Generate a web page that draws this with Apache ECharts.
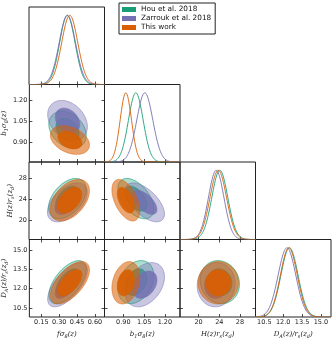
<!DOCTYPE html>
<html>
<head>
<meta charset="utf-8">
<script src="https://cdn.jsdelivr.net/npm/echarts@6/dist/echarts.min.js"></script>
<style>
  html, body { margin: 0; padding: 0; background: #fff; }
  #chart { width: 335px; height: 341px; }
</style>
</head>
<body>
<div id="chart"></div>
<script>
// datasets, in legend order
var names = ['Hou et al. 2018', 'Zarrouk et al. 2018', 'This work'];
var colors = ['#1b9e77', '#7570b3', '#d95f02'];

// marginal means / widths
var fs8Mean = [0.37, 0.37, 0.39];
var fs8Sigma = [0.064, 0.068, 0.067];
var bs8Mean = [0.99, 1.055, 0.918];
var bs8Sigma = [0.053, 0.058, 0.041];
var hrsMean = [24.1, 23.4, 23.8];
var hrsSigma = [1.55, 1.5, 1.6];
var darsMean = [12.5, 12.3, 12.45];
var darsSigma = [0.68, 0.7, 0.67];

// correlations (tilt of the 2D contours)
var rhoFB = [-0.3, -0.3, -0.35];
var rhoFH = [0.45, 0.5, 0.45];
var rhoFD = [0.6, 0.65, 0.6];
var rhoBH = [-0.5, -0.6, -0.5];
var rhoBD = [0.3, 0.35, 0.25];
var rhoHD = [-0.1, 0.05, 0.0];

// axes
var fs8Ticks = [0.15, 0.30, 0.45, 0.60];
var bs8Ticks = [0.90, 1.05, 1.20];
var hrsTicks = [20, 24, 28];
var darsTicks = [10.5, 12.0, 13.5, 15.0];
var fs8Range = [0.05, 0.68];
var bs8Range = [0.764, 1.309];
var hrsRange = [16.4, 31.0];
var darsRange = [9.8, 15.8];

var means = [fs8Mean, bs8Mean, hrsMean, darsMean];
var sigmas = [fs8Sigma, bs8Sigma, hrsSigma, darsSigma];
var ticks = [fs8Ticks, bs8Ticks, hrsTicks, darsTicks];
var ranges = [fs8Range, bs8Range, hrsRange, darsRange];
var decimals = [2, 2, 0, 1];
var rhos = {'0_1': rhoFB, '0_2': rhoFH, '0_3': rhoFD, '1_2': rhoBH, '1_3': rhoBD, '2_3': rhoHD};

// fill opacity per dataset: [95% region, 68% region]
var fillAlpha = [[0.35, 0.8], [0.4, 0.85], [0.55, 0.9]];

var axisNames = [
    '{i|fσ}{s|8}{i|(z)}',
    '{i|b}{s|1}{i|σ}{s|8}{i|(z)}',
    '{i|H(z)r}{s|s}{i|(z}{s|d}{i|)}',
    '{i|D}{s|A}{i|(z)/r}{s|s}{i|(z}{s|d}{i|)}'
];
var nameRich = {
    i: { fontFamily: 'DejaVu Serif', fontStyle: 'italic', fontSize: 7, color: '#222' },
    s: { fontFamily: 'DejaVu Serif', fontStyle: 'italic', fontSize: 5, color: '#222', padding: [4, 0, 0, 0] }
};

var colLeft = [29, 104.5, 180, 255.5];
var rowTop = [7, 84.5, 162, 239.5];
var cellW = 75.5, cellH = 77.5;

var chart = echarts.init(document.getElementById('chart'));
var grids = [], xAxes = [], yAxes = [], series = [];

function tickAxis(p, g, pos, showLabel) {
    return {
        type: 'value', gridIndex: g, position: pos,
        min: ranges[p][0], max: ranges[p][1],
        axisLine: { show: false }, splitLine: { show: false },
        axisTick: { show: true, inside: true, length: 3, customValues: ticks[p],
            lineStyle: { color: '#222', width: 0.8 } },
        axisLabel: { show: showLabel, customValues: ticks[p], fontSize: 6.5, color: '#222',
            fontFamily: 'DejaVu Sans', margin: 2,
            formatter: function (v) { return v.toFixed(decimals[p]); } }
    };
}

function fillColor(d, level) {
    var c = echarts.color.parse(colors[d]);
    return 'rgba(' + c[0] + ',' + c[1] + ',' + c[2] + ',' + fillAlpha[d][level] + ')';
}

function contour(px, py, d, level, xi, yi, outlineOnly) {
    var r = rhos[px + '_' + py][d];
    var k = level === 0 ? 2.448 : 1.515;
    return {
        type: 'custom', name: names[d], coordinateSystem: 'cartesian2d',
        xAxisIndex: xi, yAxisIndex: yi, clip: true, silent: true,
        itemStyle: { color: colors[d] },
        data: [[means[px][d], means[py][d]]],
        renderItem: function (params, api) {
            var pts = [];
            for (var i = 0; i <= 90; i++) {
                var t = i / 90 * 2 * Math.PI;
                var x = means[px][d] + k * sigmas[px][d] * Math.cos(t);
                var y = means[py][d] + k * sigmas[py][d] * (r * Math.cos(t) + Math.sqrt(1 - r * r) * Math.sin(t));
                pts.push(api.coord([x, y]));
            }
            return {
                type: 'polygon', shape: { points: pts },
                style: { fill: outlineOnly ? 'none' : fillColor(d, level),
                    stroke: colors[d], lineWidth: 0.5, opacity: outlineOnly ? 0.45 : 1 }
            };
        }
    };
}

function marginal(p, d, xi, yi) {
    return {
        type: 'custom', name: names[d], coordinateSystem: 'cartesian2d',
        xAxisIndex: xi, yAxisIndex: yi, clip: true, silent: true,
        itemStyle: { color: colors[d] },
        data: [[means[p][d], 1]],
        renderItem: function (params, api) {
            var pts = [];
            var lo = ranges[p][0], hi = ranges[p][1];
            for (var i = 0; i <= 120; i++) {
                var x = lo + (hi - lo) * i / 120;
                var z = (x - means[p][d]) / sigmas[p][d];
                pts.push(api.coord([x, Math.exp(-0.5 * z * z)]));
            }
            return { type: 'polyline', shape: { points: pts },
                style: { fill: 'none', stroke: colors[d], lineWidth: 0.9 } };
        }
    };
}

for (var row = 0; row < 4; row++) {
    for (var col = 0; col <= row; col++) {
        var g = grids.length;
        grids.push({ left: colLeft[col], top: rowTop[row], width: cellW, height: cellH,
            show: true, borderColor: '#222', borderWidth: 1, backgroundColor: 'transparent' });
        var bottom = tickAxis(col, g, 'bottom', row === 3);
        if (row === 3) {
            bottom.name = axisNames[col];
            bottom.nameLocation = 'middle';
            bottom.nameGap = 13;
            bottom.nameTextStyle = { rich: nameRich };
        }
        var xi = xAxes.length;
        xAxes.push(bottom);
        if (row === col) {
            var yi = yAxes.length;
            yAxes.push({ type: 'value', gridIndex: g, min: 0, max: 1.12, show: false });
            for (var d = 0; d < 3; d++) series.push(marginal(col, d, xi, yi));
        } else {
            xAxes.push(tickAxis(col, g, 'top', false));
            var left = tickAxis(row, g, 'left', col === 0);
            if (col === 0) {
                left.name = axisNames[row];
                left.nameLocation = 'middle';
                left.nameRotate = 90;
                left.nameGap = 14;
                left.nameTextStyle = { rich: nameRich };
            }
            var yi2 = yAxes.length;
            yAxes.push(left);
            yAxes.push(tickAxis(row, g, 'right', false));
            // fills: Hou, Zarrouk, then Hou outline, then this work
            series.push(contour(col, row, 0, 0, xi, yi2));
            series.push(contour(col, row, 0, 1, xi, yi2));
            series.push(contour(col, row, 1, 0, xi, yi2));
            series.push(contour(col, row, 1, 1, xi, yi2));
            series.push(contour(col, row, 0, 0, xi, yi2, true));
            series.push(contour(col, row, 0, 1, xi, yi2, true));
            series.push(contour(col, row, 2, 0, xi, yi2));
            series.push(contour(col, row, 2, 1, xi, yi2));
        }
    }
}

chart.setOption({
    animation: false,
    grid: grids,
    xAxis: xAxes,
    yAxis: yAxes,
    legend: {
        left: 119, top: 3, orient: 'vertical',
        itemWidth: 14, itemHeight: 5, itemGap: 2,
        padding: [3, 4, 3, 3],
        borderColor: '#222', borderWidth: 1, backgroundColor: '#fff',
        textStyle: { fontSize: 7.3, color: '#111', fontFamily: 'DejaVu Sans' },
        data: names.map(function (n, i) {
            return { name: n, icon: 'rect', itemStyle: { color: colors[i] } };
        })
    },
    series: series
});
</script>
</body>
</html>
